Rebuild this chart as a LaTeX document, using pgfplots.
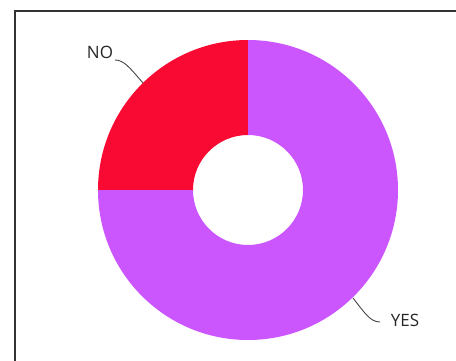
\documentclass[border=0pt]{standalone}
\usepackage{pgfplots}
\pgfplotsset{compat=1.18}
\usepackage{pgfplotstable}
\usepackage{fontspec}
\setmainfont{Open Sans}
\definecolor{noRed}{RGB}{248,10,50}
\definecolor{yesPurple}{RGB}{204,86,254}
\definecolor{frameGray}{RGB}{51,51,51}
\definecolor{leader}{RGB}{70,70,70}
\pgfplotstableread{
label value
NO 25
YES 75
}\piedata
\begin{document}
\begin{tikzpicture}
\pgfplotstablegetelem{0}{value}\of\piedata \let\vNO\pgfplotsretval
\pgfplotstablegetelem{1}{value}\of\piedata \let\vYES\pgfplotsretval
\pgfmathsetmacro{\tot}{\vNO+\vYES}
\pgfmathsetmacro{\aA}{90}
\pgfmathsetmacro{\aB}{90+360*(\vNO/\tot)}
\pgfmathsetmacro{\aC}{\aB+360*(\vYES/\tot)}
\pgfmathsetmacro{\Ro}{150}
\pgfmathsetmacro{\Ri}{55}
\begin{axis}[hide axis, x=1pt, y=1pt, xmin=-248, xmax=208, ymin=-170, ymax=190, clip=false]
% frame
\draw[frameGray, line width=1.2pt] (axis cs:-233,-175) -- (axis cs:-233,179) -- (axis cs:215,179);
% NO slice
\fill[noRed] (axis cs:{\Ro*cos(\aA)},{\Ro*sin(\aA)}) arc[start angle=\aA, end angle=\aB, radius=\Ro pt]
  -- (axis cs:{\Ri*cos(\aB)},{\Ri*sin(\aB)}) arc[start angle=\aB, end angle=\aA, radius=\Ri pt] -- cycle;
% YES slice
\fill[yesPurple] (axis cs:{\Ro*cos(\aB)},{\Ro*sin(\aB)}) arc[start angle=\aB, end angle=\aC, radius=\Ro pt]
  -- (axis cs:{\Ri*cos(\aC)},{\Ri*sin(\aC)}) arc[start angle=\aC, end angle=\aB, radius=\Ri pt] -- cycle;
% leader lines
\draw[leader, line width=0.9pt] (axis cs:-105,107) .. controls (axis cs:-118,122) and (axis cs:-124,130) .. (axis cs:-133,130);
\draw[leader, line width=0.9pt] (axis cs:105,-108) .. controls (axis cs:116,-122) and (axis cs:122,-132) .. (axis cs:132,-132);
\node[font=\fontsize{17}{20}\selectfont, text=black!85, inner sep=0pt] at (axis cs:-148,138) {NO};
\node[font=\fontsize{17}{20}\selectfont, text=black!85, inner sep=0pt] at (axis cs:157,-130) {YES};
\end{axis}
\pgfresetboundingbox
\useasboundingbox (current axis.south west) rectangle (current axis.north east);
\end{tikzpicture}
\end{document}
